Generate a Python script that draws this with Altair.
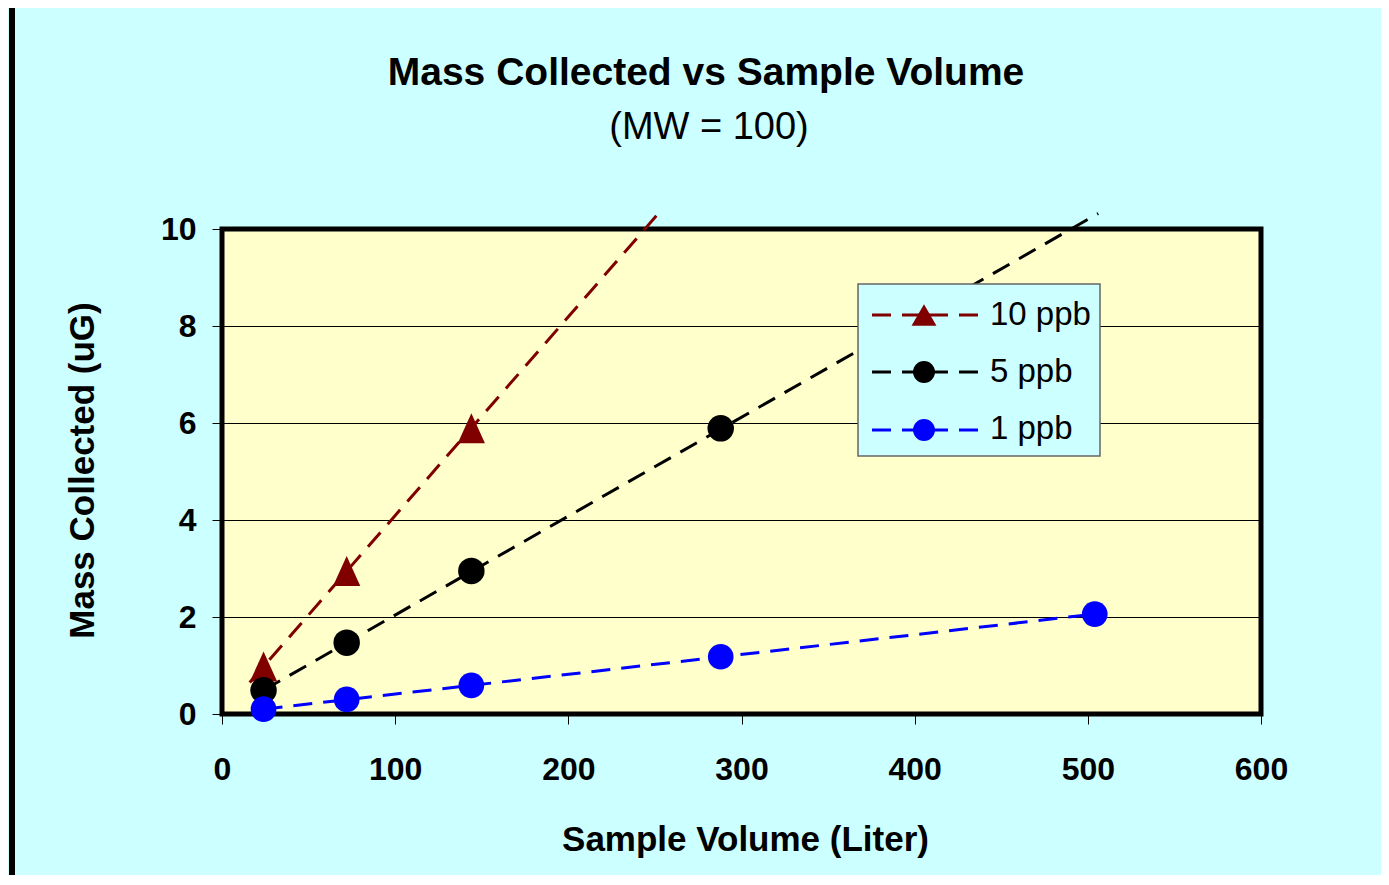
import altair as alt
import pandas as pd

# ---- data ----
series_names = ["10 ppb", "5 ppb", "1 ppb"]
series_colors = ["#800000", "#000000", "#0000FF"]

vol_10 = [24, 72, 144]
mass_10 = [0.98, 2.95, 5.89]
vol_5 = [24, 72, 144, 288]
mass_5 = [0.49, 1.47, 2.95, 5.89]
vol_1 = [24, 72, 144, 288, 504]
mass_1 = [0.10, 0.30, 0.59, 1.18, 2.06]

# dashed trend lines (end points)
line_vol_10 = [16, 252]
line_mass_10 = [0.65, 10.32]
line_vol_5 = [24, 506]
line_mass_5 = [0.49, 10.32]
line_vol_1 = [24, 504]
line_mass_1 = [0.10, 2.06]

x_ticks = [0, 100, 200, 300, 400, 500, 600]
y_ticks = [0, 2, 4, 6, 8, 10]

FONT = "Liberation Sans"

pts = pd.concat([
    pd.DataFrame({"series": "10 ppb", "volume": vol_10, "mass": mass_10}),
    pd.DataFrame({"series": "5 ppb", "volume": vol_5, "mass": mass_5}),
    pd.DataFrame({"series": "1 ppb", "volume": vol_1, "mass": mass_1}),
], ignore_index=True)

lines = pd.concat([
    pd.DataFrame({"series": "10 ppb", "volume": line_vol_10, "mass": line_mass_10}),
    pd.DataFrame({"series": "5 ppb", "volume": line_vol_5, "mass": line_mass_5}),
    pd.DataFrame({"series": "1 ppb", "volume": line_vol_1, "mass": line_mass_1}),
], ignore_index=True)

TRI = "M0,-1.1L1,1.1L-1,1.1Z"

color_scale = alt.Scale(domain=series_names, range=series_colors)
xenc = alt.X("volume:Q", scale=alt.Scale(domain=[0, 600], nice=False),
             axis=alt.Axis(values=x_ticks, title="Sample Volume (Liter)", grid=False,
                           domain=False, tickColor="black", tickWidth=1, tickSize=10,
                           labelFont=FONT, labelFontSize=32, labelFontWeight="bold",
                           labelColor="black", labelPadding=30, labelBaseline="top",
                           labelFlush=False, labelOverlap=False,
                           titleFont=FONT, titleFontSize=35, titleFontWeight="bold",
                           titleColor="black", titleX=523, titleY=136,
                           titleBaseline="alphabetic", titleAlign="center"))
yenc = alt.Y("mass:Q", scale=alt.Scale(domain=[0, 10], nice=False),
             axis=alt.Axis(values=y_ticks, title="Mass Collected (uG)", grid=True,
                           gridColor="black", gridWidth=1, gridOpacity=1,
                           domain=False, tickColor="black", tickWidth=1, tickSize=10,
                           labelFont=FONT, labelFontSize=32, labelFontWeight="bold",
                           labelColor="black", labelPadding=16, labelBaseline="middle",
                           labelFlush=False, labelOverlap=False,
                           titleFont=FONT, titleFontSize=35, titleFontWeight="bold",
                           titleColor="black", titleX=-129, titleY=241, titleAngle=270,
                           titleBaseline="alphabetic", titleAlign="center"))

line_layer = alt.Chart(lines).mark_line(strokeDash=[19, 11]).encode(
    x=xenc, y=yenc,
    color=alt.Color("series:N", scale=color_scale, legend=None),
    strokeWidth=alt.StrokeWidth("series:N", scale=alt.Scale(domain=series_names, range=[3, 3, 3.5]), legend=None),
    detail="series:N",
)

point_layer = alt.Chart(pts).mark_point(filled=True, opacity=1).encode(
    x="volume:Q", y="mass:Q",
    color=alt.Color("series:N", scale=color_scale, legend=None),
    shape=alt.Shape("series:N", scale=alt.Scale(domain=series_names, range=[TRI, "circle", "circle"]), legend=None),
    size=alt.Size("series:N", scale=alt.Scale(domain=series_names, range=[740, 660, 660]), legend=None),
)

layers = [line_layer, point_layer]

# ---- manual legend (Excel-style box inside the plot) ----
one = alt.Data(values=[{"k": 1}])
layers.append(alt.Chart(one).mark_rect(fill="#CCFFFF", stroke="#666666", strokeWidth=1.5).encode(
    x=alt.value(636), x2=alt.value(878), y=alt.value(55), y2=alt.value(227)))

row_y = [86, 143, 201]
text_y = [96, 153, 210]
shapes = ["triangle-up", "circle", "circle"]
msize = [620, 480, 480]
for i, name in enumerate(series_names):
    col = series_colors[i]
    for (a, b) in [(650, 669), (680, 726), (737, 756)]:
        layers.append(alt.Chart(one).mark_rule(color=col, strokeWidth=3).encode(
            x=alt.value(a), x2=alt.value(b), y=alt.value(row_y[i])))
    layers.append(alt.Chart(one).mark_point(filled=True, opacity=1, color=col, shape=shapes[i],
                                            size=msize[i]).encode(
        x=alt.value(702), y=alt.value(row_y[i])))
    layers.append(alt.Chart(alt.Data(values=[{"label": name}])).mark_text(
        font=FONT, fontSize=33, color="black", align="left", baseline="alphabetic").encode(
        x=alt.value(768), y=alt.value(text_y[i]), text="label:N"))

# ---- titles ----
layers.append(alt.Chart(alt.Data(values=[{"t": "Mass Collected vs Sample Volume"}])).mark_text(
    font=FONT, fontSize=39, fontWeight="bold", color="black", align="center", baseline="alphabetic").encode(
    x=alt.value(484), y=alt.value(-144), text="t:N"))
layers.append(alt.Chart(alt.Data(values=[{"t": "(MW = 100)"}])).mark_text(
    font=FONT, fontSize=38, color="black", align="center", baseline="alphabetic").encode(
    x=alt.value(487), y=alt.value(-90), text="t:N"))

# left frame strip
layers.append(alt.Chart(one).mark_rect(color="black").encode(
    x=alt.value(-213), x2=alt.value(-207), y=alt.value(-221), y2=alt.value(660)))

chart = alt.layer(*layers).properties(
    width=1039, height=485,
    autosize=alt.AutoSizeParams(type="none"),
    padding={"left": 214, "top": 221, "right": 120, "bottom": 161},
    background="#CCFFFF",
).configure_view(fill="#FFFFCC", stroke="black", strokeWidth=5)

chart.save("out.html", embed_options={"renderer": "svg", "actions": False})
